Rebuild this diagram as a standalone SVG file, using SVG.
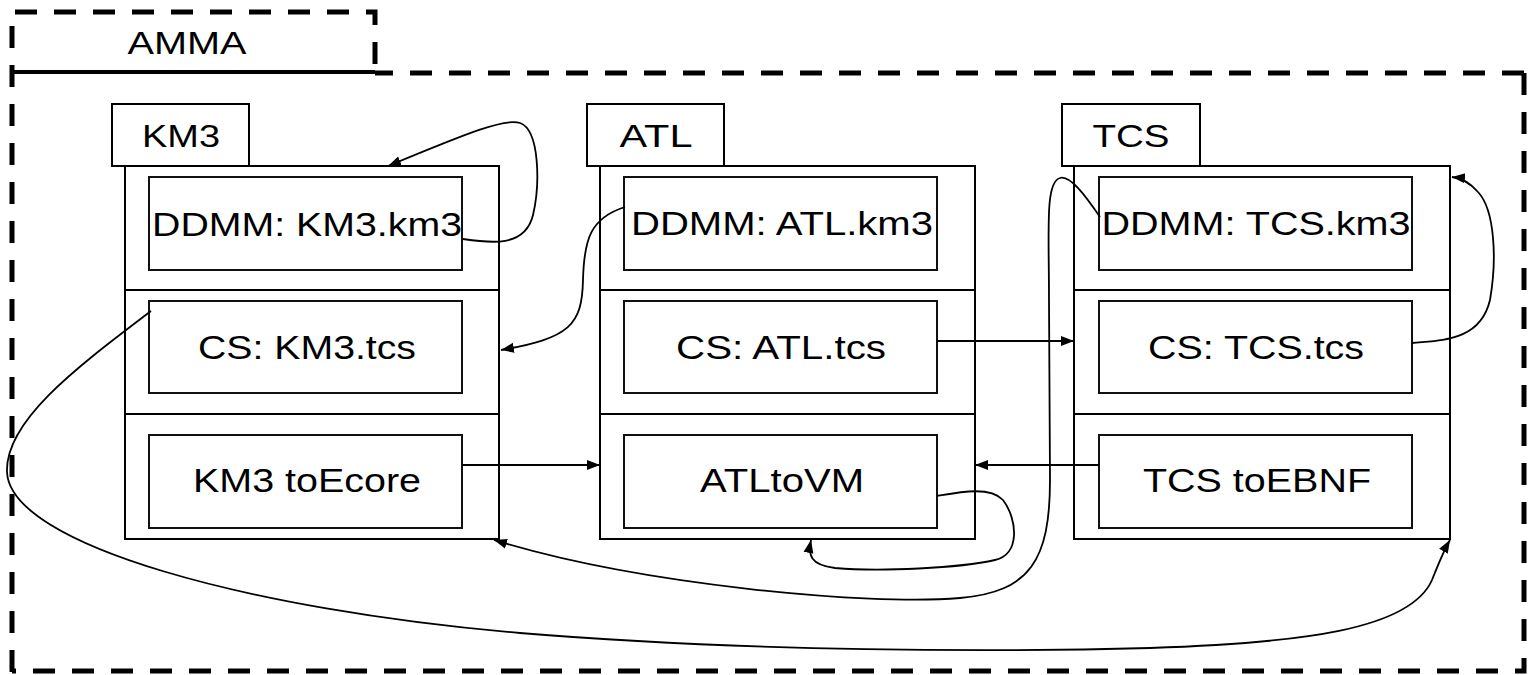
<svg xmlns="http://www.w3.org/2000/svg" width="1533" height="675" viewBox="0 0 1533 675">
<style>
.dash{fill:none;stroke:#000;stroke-width:5;stroke-dasharray:22 17}
.box{fill:#fff;stroke:#000;stroke-width:2}
.in{fill:#fff;stroke:#111;stroke-width:2}
.t{font-family:"Liberation Sans",Arial,sans-serif;font-size:34px;fill:#000;text-anchor:middle}
.lbl{font-family:"Liberation Sans",Arial,sans-serif;font-size:31px;fill:#000;text-anchor:middle}
.c{fill:none;stroke:#000;stroke-width:1.8}
</style>
<defs>
<marker id="ah" markerUnits="userSpaceOnUse" markerWidth="14" markerHeight="12" refX="13" refY="5" orient="auto" viewBox="0 0 14 10">
<path d="M0,0 L13,5 L0,10 z" fill="#000"/>
</marker>
</defs>
<g id="amma">
<path class="dash" d="M12,672 L12,12 L375,12 L375,72"/>
<line x1="12" y1="72" x2="375" y2="72" stroke="#000" stroke-width="4"/>
<path class="dash" d="M1524,73 L1524,671 L12,671"/>
<path class="dash" d="M1524,73 L375,73"/>
<text class="lbl" x="187" y="54" textLength="119" lengthAdjust="spacingAndGlyphs">AMMA</text>
</g>
<g id="km3">
<rect class="box" x="112" y="104" width="137" height="62"/>
<text class="lbl" x="181" y="147" textLength="78" lengthAdjust="spacingAndGlyphs">KM3</text>
<rect class="box" x="125" y="166" width="374" height="373"/>
<line x1="125" y1="290" x2="499" y2="290" stroke="#000" stroke-width="2"/>
<line x1="125" y1="414" x2="499" y2="414" stroke="#000" stroke-width="2"/>
</g>
<g id="km3-ddmm">
<rect class="in" x="149" y="177" width="313" height="93"/>
<text class="t" x="307" y="236" textLength="310" lengthAdjust="spacingAndGlyphs">DDMM: KM3.km3</text>
</g>
<g id="km3-cs">
<rect class="in" x="149" y="301" width="313" height="92"/>
<text class="t" x="307" y="359" textLength="218" lengthAdjust="spacingAndGlyphs">CS: KM3.tcs</text>
</g>
<g id="km3-toecore">
<rect class="in" x="149" y="435" width="313" height="93"/>
<text class="t" x="307" y="492" textLength="228" lengthAdjust="spacingAndGlyphs">KM3 toEcore</text>
</g>
<g id="atl">
<rect class="box" x="587" y="104" width="137" height="62"/>
<text class="lbl" x="656" y="147" textLength="73" lengthAdjust="spacingAndGlyphs">ATL</text>
<rect class="box" x="600" y="166" width="375" height="373"/>
<line x1="600" y1="290" x2="975" y2="290" stroke="#000" stroke-width="2"/>
<line x1="600" y1="414" x2="975" y2="414" stroke="#000" stroke-width="2"/>
</g>
<g id="atl-ddmm">
<rect class="in" x="624" y="177" width="313" height="93"/>
<text class="t" x="782" y="235" textLength="302" lengthAdjust="spacingAndGlyphs">DDMM: ATL.km3</text>
</g>
<g id="atl-cs">
<rect class="in" x="624" y="301" width="313" height="92"/>
<text class="t" x="781" y="359" textLength="210" lengthAdjust="spacingAndGlyphs">CS: ATL.tcs</text>
</g>
<g id="atl-tovm">
<rect class="in" x="624" y="435" width="313" height="93"/>
<text class="t" x="782" y="492" textLength="164" lengthAdjust="spacingAndGlyphs">ATLtoVM</text>
</g>
<g id="tcs">
<rect class="box" x="1062" y="104" width="138" height="62"/>
<text class="lbl" x="1131" y="147" textLength="77" lengthAdjust="spacingAndGlyphs">TCS</text>
<rect class="box" x="1074" y="166" width="376" height="373"/>
<line x1="1074" y1="290" x2="1450" y2="290" stroke="#000" stroke-width="2"/>
<line x1="1074" y1="414" x2="1450" y2="414" stroke="#000" stroke-width="2"/>
</g>
<g id="tcs-ddmm">
<rect class="in" x="1099" y="177" width="313" height="93"/>
<text class="t" x="1256" y="235" textLength="309" lengthAdjust="spacingAndGlyphs">DDMM: TCS.km3</text>
</g>
<g id="tcs-cs">
<rect class="in" x="1099" y="301" width="313" height="92"/>
<text class="t" x="1256" y="359" textLength="216" lengthAdjust="spacingAndGlyphs">CS: TCS.tcs</text>
</g>
<g id="tcs-toebnf">
<rect class="in" x="1099" y="435" width="313" height="93"/>
<text class="t" x="1257" y="492" textLength="228" lengthAdjust="spacingAndGlyphs">TCS toEBNF</text>
</g>
<g id="connectors">
<path class="c" marker-end="url(#ah)" d="M463,239 C490,243 525,248 533,215 C540,185 540,130 520,123 C505,118 470,132 388,166"/>
<path class="c" marker-end="url(#ah)" d="M625,207 C590,218 584,240 583,280 C582,325 570,338 501,350"/>
<path class="c" marker-end="url(#ah)" d="M937,341 L1074,341"/>
<path class="c" marker-end="url(#ah)" d="M462,465 L600,465"/>
<path class="c" marker-end="url(#ah)" d="M1099,465 L975,465"/>
<path class="c" marker-end="url(#ah)" d="M937,496 C960,492 990,486 1003,500 C1018,520 1020,555 995,560 C960,568 880,572 835,568 C810,565 808,555 811,540"/>
<path class="c" marker-end="url(#ah)" d="M151,311 C80,365 5,420 7,472 C10,545 250,610 520,633 C750,652 1000,652 1150,648 C1300,643 1410,630 1432,580 C1438,565 1443,552 1450,540"/>
<path class="c" marker-end="url(#ah)" d="M1100,217 C1085,195 1070,175 1060,178 C1045,182 1049,230 1049,300 L1050,480 C1050,560 1030,592 960,598 C870,606 640,585 494,540"/>
<path class="c" marker-end="url(#ah)" d="M1412,343 C1440,340 1480,342 1490,300 C1497,260 1495,210 1478,192 C1470,183 1462,178 1452,177"/>
</g>
</svg>
